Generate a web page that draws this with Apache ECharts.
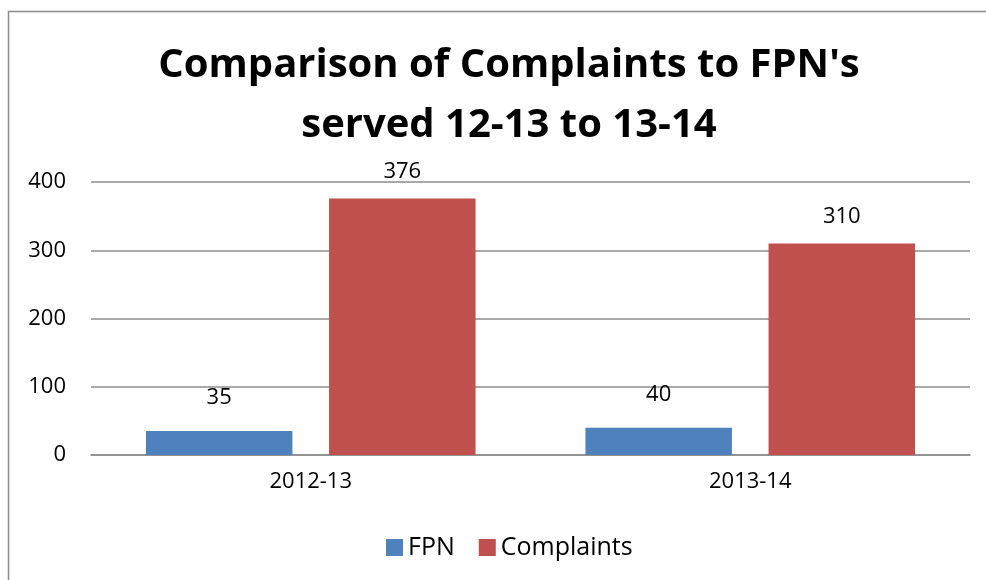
<!DOCTYPE html>
<html lang="en">
<head>
    <meta charset="UTF-8">
    <title>Complaints vs FPN</title>
    <script type="text/javascript" src="https://cdn.jsdelivr.net/npm/echarts@6/dist/echarts.min.js"></script>
    <style>
        html, body { margin: 0; padding: 0; background: #fff; }
        #main { width: 986px; height: 580px; }
    </style>
</head>
<body>
<div id="main"></div>
<script type="text/javascript">
    // data
    var years = ['2012-13', '2013-14'];
    var fpn = [35, 40];
    var complaints = [376, 310];
    var yTicks = [0, 100, 200, 300, 400];

    var font = 'Open Sans';
    var myChart = echarts.init(document.getElementById('main'));

    var option = {
        backgroundColor: '#fff',
        animation: false,
        title: {
            text: "Comparison of Complaints to FPN's\nserved 12-13 to 13-14",
            left: 504,
            top: 31,
            textAlign: 'center',
            textStyle: {
                fontFamily: font,
                fontWeight: 'bold',
                fontSize: 40,
                lineHeight: 60,
                color: '#000'
            }
        },
        graphic: [{
            type: 'rect',
            shape: { x: 8.5, y: 11.5, width: 1000, height: 600 },
            style: { fill: 'none', stroke: '#8c8c8c', lineWidth: 1.5 },
            silent: true
        }],
        legend: {
            data: ['FPN', 'Complaints'],
            bottom: 15,
            left: 381,
            itemWidth: 17,
            itemHeight: 17,
            itemGap: 24,
            icon: 'rect',
            textStyle: { fontFamily: font, fontSize: 25, color: '#000' }
        },
        grid: { left: 91, right: 16, top: 182, bottom: 125 },
        xAxis: {
            type: 'category',
            data: years,
            axisTick: { show: false },
            axisLine: { lineStyle: { color: '#8c8c8c', width: 1.5 } },
            axisLabel: { fontFamily: font, fontSize: 22, color: '#000', margin: 16 }
        },
        yAxis: {
            type: 'value',
            min: yTicks[0],
            max: yTicks[yTicks.length - 1],
            interval: 100,
            axisLine: { show: false },
            axisTick: { show: false },
            splitLine: { lineStyle: { color: '#8c8c8c', width: 1.5 } },
            axisLabel: { fontFamily: font, fontSize: 22, color: '#000', margin: 25 }
        },
        series: [{
            name: 'FPN',
            type: 'bar',
            data: fpn,
            barGap: '25%',
            barCategoryGap: '25%',
            itemStyle: { color: '#4f81bd' },
            label: { show: true, position: 'top', distance: 22, fontFamily: font, fontSize: 22, color: '#000' }
        }, {
            name: 'Complaints',
            type: 'bar',
            data: complaints,
            itemStyle: { color: '#c0504d' },
            label: { show: true, position: 'top', distance: 16, fontFamily: font, fontSize: 22, color: '#000' }
        }]
    };
    myChart.setOption(option);
</script>
</body>
</html>
